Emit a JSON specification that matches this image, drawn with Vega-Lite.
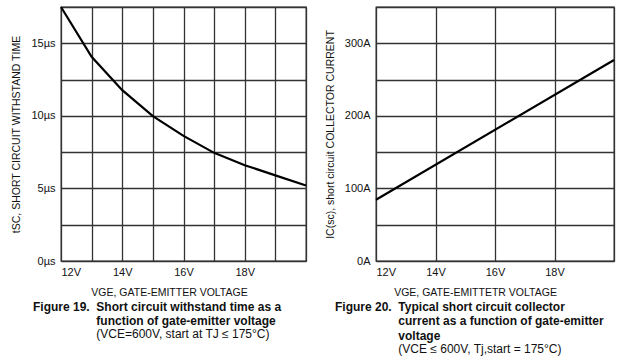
{
  "$schema": "https://vega.github.io/schema/vega-lite/v6.json",
  "padding": {"left": 11, "top": 1, "right": 9, "bottom": 0},
  "background": "white",
  "spacing": 12,
  "config": {
    "font": "Liberation Sans",
    "view": {"stroke": "#333", "strokeWidth": 1.3},
    "axis": {
      "grid": true, "gridColor": "#333", "gridWidth": 1.3, "gridOpacity": 1,
      "domain": false, "ticks": false,
      "labelFont": "Liberation Sans", "labelFontSize": 11, "labelColor": "#111",
      "titleFont": "Liberation Sans", "titleFontSize": 10.5, "titleFontWeight": "normal", "titleColor": "#111"
    },
    "title": {"font": "Liberation Sans", "color": "#111", "subtitleColor": "#111"}
  },
  "hconcat": [
    {
      "width": 245,
      "height": 254,
      "title": {
        "text": ["Figure 19.\u00a0\u00a0Short circuit withstand time as a", "\u200b\u00a0\u00a0\u00a0\u00a0\u00a0\u00a0\u00a0\u00a0\u00a0\u00a0\u00a0\u00a0\u00a0\u00a0\u00a0\u00a0\u00a0\u00a0\u00a0function of gate-emitter voltage"],
        "subtitle": "\u200b\u00a0\u00a0\u00a0\u00a0\u00a0\u00a0\u00a0\u00a0\u00a0\u00a0\u00a0\u00a0\u00a0\u00a0\u00a0\u00a0\u00a0\u00a0\u00a0(VCE=600V, start at TJ \u2264 175\u00b0C)",
        "orient": "bottom", "anchor": "start", "frame": "group", "dx": -28,
        "fontSize": 12, "fontWeight": "bold", "lineHeight": 14.5,
        "subtitleFontSize": 12, "subtitleFontWeight": "normal", "subtitlePadding": 1,
        "offset": 4
      },
      "data": {"values": [
        {"v": 12, "t": 17.5}, {"v": 13, "t": 14.07}, {"v": 14, "t": 11.77},
        {"v": 15, "t": 9.98}, {"v": 16, "t": 8.62}, {"v": 17, "t": 7.45},
        {"v": 18, "t": 6.6}, {"v": 19, "t": 5.9}, {"v": 20, "t": 5.2}
      ]},
      "mark": {"type": "line", "color": "black", "strokeWidth": 2.2},
      "encoding": {
        "x": {
          "field": "v", "type": "quantitative",
          "scale": {"domain": [12, 20], "nice": false},
          "axis": {
            "values": [12, 13, 14, 15, 16, 17, 18, 19, 20],
            "labelExpr": "datum.value % 2 == 0 && datum.value < 20 ? datum.value + 'V' : ''",
            "labelDx": 6, "labelPadding": 5,
            "title": "VGE, GATE-EMITTER VOLTAGE", "titlePadding": 10, "titleX": 108
          }
        },
        "y": {
          "field": "t", "type": "quantitative",
          "scale": {"domain": [0, 17.5], "nice": false},
          "axis": {
            "values": [0, 2.5, 5, 7.5, 10, 12.5, 15, 17.5],
            "labelExpr": "datum.value % 5 == 0 ? datum.value + 'µs' : ''",
            "labelPadding": 6,
            "title": "tSC, SHORT CIRCUIT WITHSTAND TIME", "titlePadding": 9
          }
        }
      }
    },
    {
      "width": 238,
      "height": 254,
      "title": {
        "text": ["Figure 20.\u00a0\u00a0Typical short circuit collector", "\u200b\u00a0\u00a0\u00a0\u00a0\u00a0\u00a0\u00a0\u00a0\u00a0\u00a0\u00a0\u00a0\u00a0\u00a0\u00a0\u00a0\u00a0\u00a0\u00a0current as a function of gate-emitter", "\u200b\u00a0\u00a0\u00a0\u00a0\u00a0\u00a0\u00a0\u00a0\u00a0\u00a0\u00a0\u00a0\u00a0\u00a0\u00a0\u00a0\u00a0\u00a0\u00a0voltage"],
        "subtitle": "\u200b\u00a0\u00a0\u00a0\u00a0\u00a0\u00a0\u00a0\u00a0\u00a0\u00a0\u00a0\u00a0\u00a0\u00a0\u00a0\u00a0\u00a0\u00a0\u00a0(VCE \u2264 600V, Tj,start = 175\u00b0C)",
        "orient": "bottom", "anchor": "start", "frame": "group", "dx": -41,
        "fontSize": 12, "fontWeight": "bold", "lineHeight": 14.5,
        "subtitleFontSize": 12, "subtitleFontWeight": "normal", "subtitlePadding": 1,
        "offset": 4
      },
      "data": {"values": [
        {"v": 12, "i": 84.5}, {"v": 20, "i": 277}
      ]},
      "mark": {"type": "line", "color": "black", "strokeWidth": 2.2},
      "encoding": {
        "x": {
          "field": "v", "type": "quantitative",
          "scale": {"domain": [12, 20], "nice": false},
          "axis": {
            "values": [12, 14, 16, 18, 20],
            "labelExpr": "datum.value < 20 ? datum.value + 'V' : ''",
            "labelDx": 5, "labelPadding": 5,
            "title": "VGE, GATE-EMITTETR VOLTAGE", "titlePadding": 10, "titleX": 99
          }
        },
        "y": {
          "field": "i", "type": "quantitative",
          "scale": {"domain": [0, 350], "nice": false},
          "axis": {
            "values": [0, 50, 100, 150, 200, 250, 300, 350],
            "labelExpr": "datum.value % 100 == 0 ? datum.value + 'A' : ''",
            "labelPadding": 6,
            "title": "IC(sc), short circuit COLLECTOR CURRENT", "titlePadding": 9
          }
        }
      }
    }
  ]
}
